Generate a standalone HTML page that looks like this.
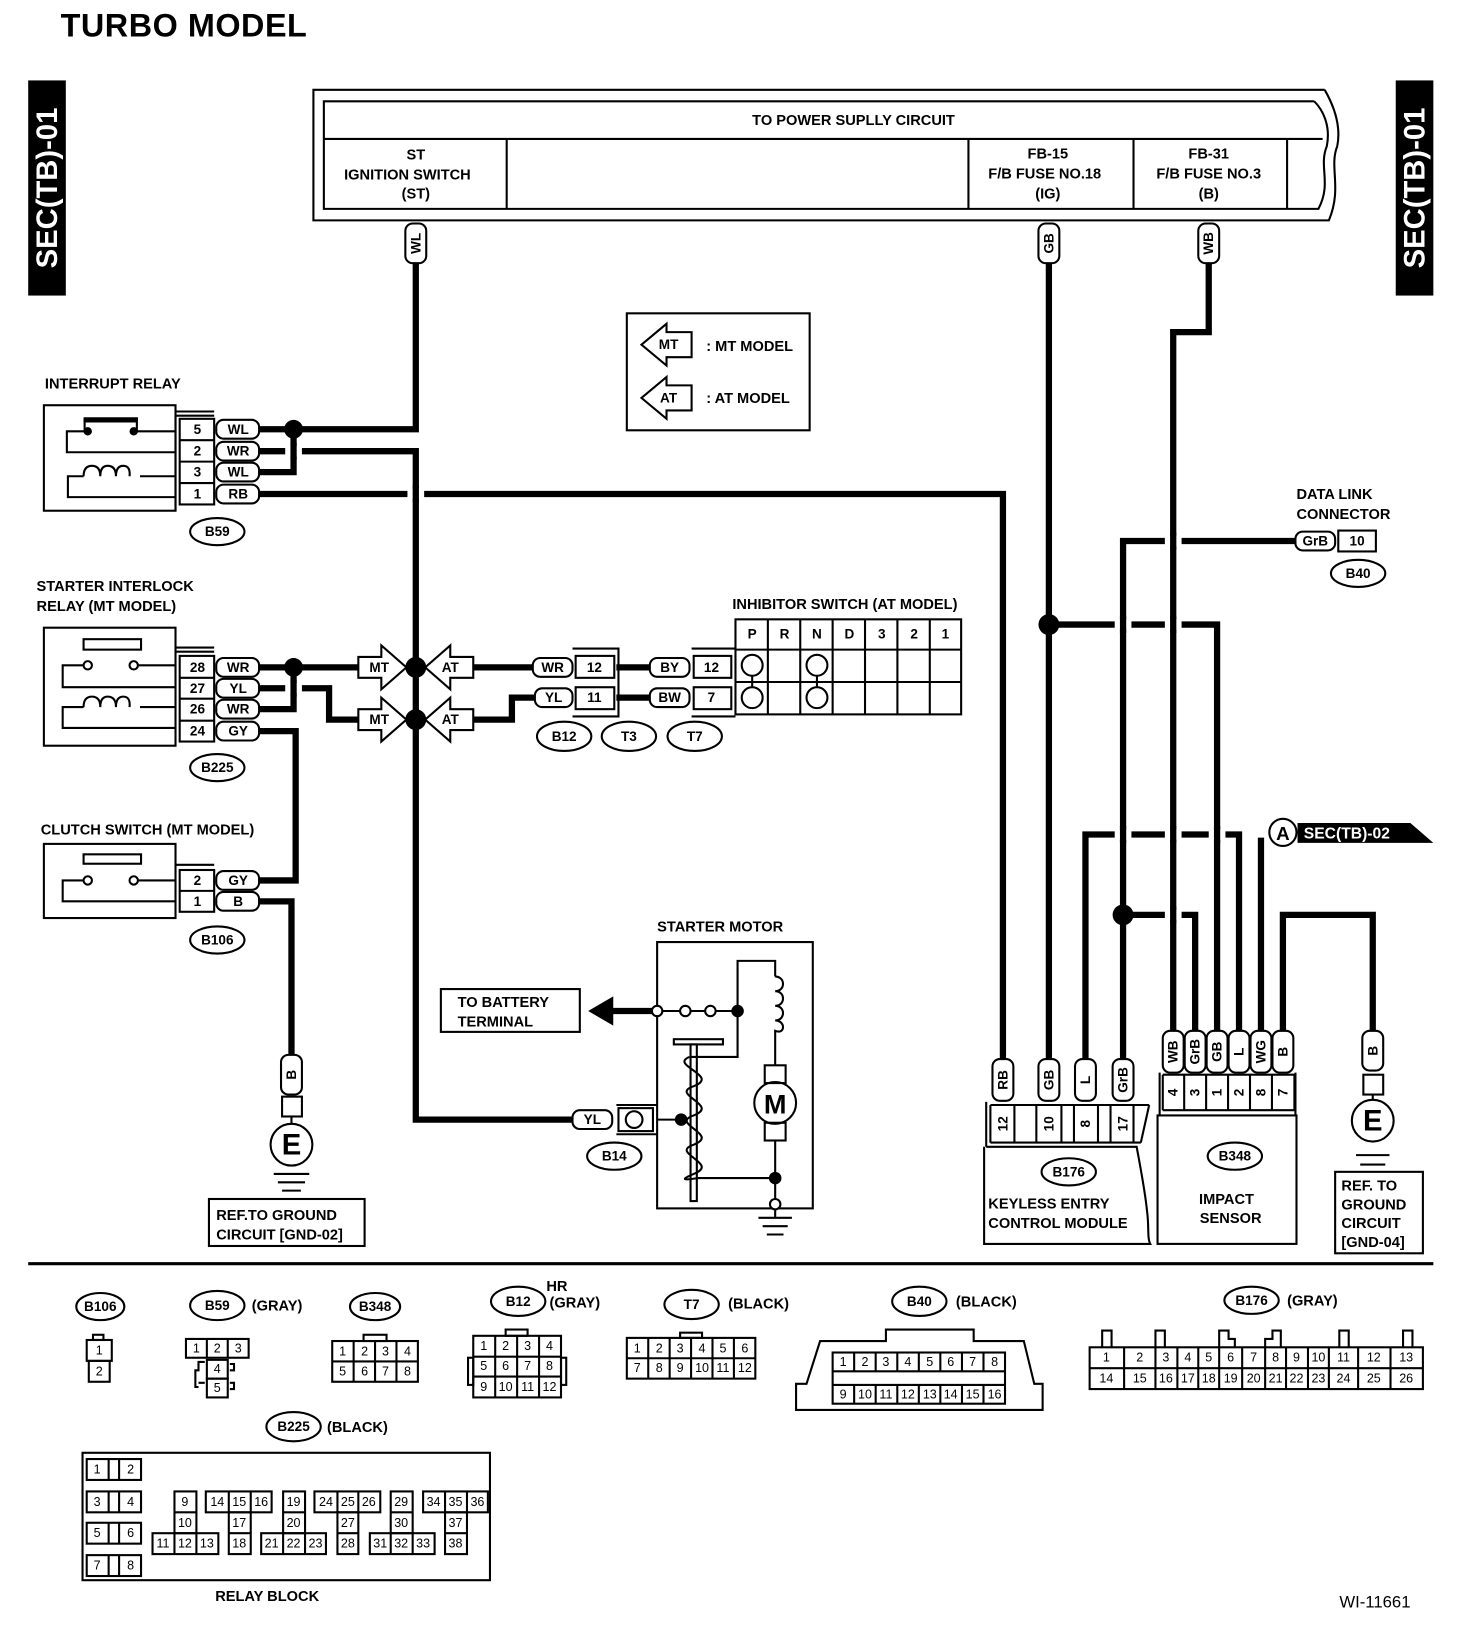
<!DOCTYPE html>
<html><head><meta charset="utf-8"><style>
html,body{margin:0;padding:0;background:#fff}
svg{display:block}
text{font-family:"Liberation Sans",Arial,sans-serif;font-weight:bold;font-size:14px;fill:#000}
.c{text-anchor:middle;dominant-baseline:central}
.w{stroke:#000;stroke-width:6;fill:none}
.t{stroke:#000;stroke-width:2;fill:none}
.p{fill:#fff;stroke:#000;stroke-width:2}
.n{font-size:13px}
.s{font-size:12px;font-weight:normal}
</style></head><body>
<svg width="1472" height="1646" viewBox="0 0 1409 1576" preserveAspectRatio="none" xmlns="http://www.w3.org/2000/svg">
<rect width="1409" height="1576" fill="#fff"/>
<text x="58" y="35" style="font-size:31px;letter-spacing:0.5px">TURBO MODEL</text>
<rect x="27" y="77" width="36" height="206" fill="#000"/>
<text class="c" transform="translate(46,180) rotate(-90)" style="font-size:28px;fill:#fff">SEC(TB)-01</text>
<rect x="1336" y="77" width="36" height="206" fill="#000"/>
<text class="c" transform="translate(1355,180) rotate(-90)" style="font-size:28px;fill:#fff">SEC(TB)-01</text>

<path class="t" d="M1268,86 H300 V211 H1272 C1285,180 1272,160 1280,140 C1284,120 1276,100 1268,86" stroke-width="2.5"/>
<path class="t" d="M1258,97 H310 V200 H1262 C1275,175 1262,160 1270,140 C1274,120 1266,105 1258,97"/>
<line class="t" x1="310" y1="133" x2="1266" y2="133"/>
<line class="t" x1="485" y1="133" x2="485" y2="200"/>
<line class="t" x1="927" y1="133" x2="927" y2="200"/>
<line class="t" x1="1085" y1="133" x2="1085" y2="200"/>
<line class="t" x1="1232" y1="133" x2="1232" y2="200"/>
<text class="c" x="817" y="116">TO POWER SUPLLY CIRCUIT</text>
<text class="c" x="398" y="149">ST</text>
<text class="c" x="390" y="168">IGNITION SWITCH</text>
<text class="c" x="398" y="186">(ST)</text>
<text class="c" x="1003" y="148">FB-15</text>
<text class="c" x="1000" y="167">F/B FUSE NO.18</text>
<text class="c" x="1003" y="186">(IG)</text>
<text class="c" x="1157" y="148">FB-31</text>
<text class="c" x="1157" y="167">F/B FUSE NO.3</text>
<text class="c" x="1157" y="186">(B)</text>

<rect class="t" x="600" y="300" width="175" height="112"/>
<path class="t" d="M614,330 L638,310 V318 H662 V342 H638 V350 Z"/>
<text class="c" x="640" y="330" style="font-size:13px">MT</text>
<text x="676" y="336">: MT MODEL</text>
<path class="t" d="M614,381 L638,361 V369 H662 V393 H638 V401 Z"/>
<text class="c" x="640" y="381" style="font-size:13px">AT</text>
<text x="676" y="386">: AT MODEL</text>

<path class="w" d="M398,252 V411 H248"/>
<path class="w" d="M281,411 V452 H248"/>
<path class="w" d="M248,432 H398 V1072 H548"/>
<path class="w" d="M248,473 H960 V1014"/>
<path class="w" d="M248,639 H343"/>
<path class="w" d="M281,639 V679 H248"/>
<path class="w" d="M248,659 H315 V689 H343"/>
<path class="w" d="M453,639 H510"/>
<path class="w" d="M453,689 H490 V668 H512"/>
<path class="w" d="M590,639 H622"/>
<path class="w" d="M590,668 H622"/>
<path class="w" d="M248,700 H283 V843 H248"/>
<path class="w" d="M248,863 H279 V1010"/>
<path class="w" d="M1004,252 V1014"/>
<path class="w" d="M1004,598 H1165 V987"/>
<path class="w" d="M1157,252 V318 H1123 V987"/>
<path class="w" d="M1240,518 H1075 V1014"/>
<path class="w" d="M1039,1014 V799 H1186 V987"/>
<path class="w" d="M1075,876 H1144 V987"/>
<path class="w" d="M1207,802 V987"/>
<path class="w" d="M1228,987 V876 H1314 V987"/>
<g fill="#fff">
<rect x="273" y="427" width="16" height="10"/>
<rect x="273" y="654" width="16" height="10"/>
<rect x="390" y="468" width="16" height="10"/>
<rect x="1067" y="593" width="16" height="10"/>
<rect x="1115" y="593" width="16" height="10"/>
<rect x="1115" y="513" width="16" height="10"/>
<rect x="1067" y="794" width="16" height="10"/>
<rect x="1115" y="794" width="16" height="10"/>
<rect x="1157" y="794" width="16" height="10"/>
<rect x="1115" y="871" width="16" height="10"/>
</g>
<g class="w">
<line x1="281" y1="424" x2="281" y2="440"/>
<line x1="281" y1="651" x2="281" y2="667"/>
<line x1="398" y1="465" x2="398" y2="481"/>
<line x1="1075" y1="590" x2="1075" y2="606"/>
<line x1="1123" y1="590" x2="1123" y2="606"/>
<line x1="1123" y1="510" x2="1123" y2="526"/>
<line x1="1075" y1="791" x2="1075" y2="807"/>
<line x1="1123" y1="791" x2="1123" y2="807"/>
<line x1="1165" y1="791" x2="1165" y2="807"/>
<line x1="1123" y1="868" x2="1123" y2="884"/>
</g>
<g fill="#000">
<circle cx="281" cy="411" r="9"/>
<circle cx="281" cy="639" r="9"/>
<circle cx="398" cy="639" r="10"/>
<circle cx="398" cy="689" r="10"/>
<circle cx="1004" cy="598" r="10"/>
<circle cx="1075" cy="876" r="10"/>
</g>
<g class="p">
<path d="M343,629 H365 V618 L389,639 L365,660 V649 H343 Z"/>
<path d="M453,629 H431 V618 L407,639 L431,660 V649 H453 Z"/>
<path d="M343,679 H365 V668 L389,689 L365,710 V699 H343 Z"/>
<path d="M453,679 H431 V668 L407,689 L431,710 V699 H453 Z"/>
</g>
<text class="c" x="363" y="639" style="font-size:13px">MT</text>
<text class="c" x="431" y="639" style="font-size:13px">AT</text>
<text class="c" x="363" y="689" style="font-size:13px">MT</text>
<text class="c" x="431" y="689" style="font-size:13px">AT</text>

<rect class="p" x="388" y="214" width="20" height="38" rx="7"/>
<text class="c n" transform="translate(398,233) rotate(-90)">WL</text>
<rect class="p" x="994" y="214" width="20" height="38" rx="7"/>
<text class="c n" transform="translate(1004,233) rotate(-90)">GB</text>
<rect class="p" x="1147" y="214" width="20" height="38" rx="7"/>
<text class="c n" transform="translate(1157,233) rotate(-90)">WB</text>

<text x="43" y="372">INTERRUPT RELAY</text>
<rect class="t" x="42" y="388" width="126" height="101"/>
<path class="t" d="M168,413 H128 M84,413 H64 V433 H168"/>
<path d="M80,402 H132" stroke="#000" stroke-width="5"/>
<line class="t" x1="81" y1="400" x2="81" y2="413"/><line class="t" x1="131" y1="400" x2="131" y2="413"/>
<circle cx="84" cy="413" r="4"/><circle cx="128" cy="413" r="4"/>
<path class="t" d="M168,456 H134 M80,456 H65 V476 H168"/>
<path class="t" d="M80,456 q0,-10 8,-10 q8,0 8,10 q0,-10 7,-10 q8,0 8,10 q0,-10 7,-10 q7,0 6,10"/>
<path class="t" d="M168,394 H205 M168,398 H205"/>
<rect class="t" x="172" y="401" width="33" height="82"/>
<line class="t" x1="172" y1="421.5" x2="205" y2="421.5"/><line class="t" x1="172" y1="442" x2="205" y2="442"/><line class="t" x1="172" y1="462.5" x2="205" y2="462.5"/>
<line class="t" x1="168" y1="398" x2="168" y2="489"/>
<text class="c n" x="189" y="411">5</text><text class="c n" x="189" y="432">2</text><text class="c n" x="189" y="452">3</text><text class="c n" x="189" y="473">1</text>
<g class="p"><rect x="207" y="402" width="41" height="18" rx="7"/><rect x="207" y="423" width="41" height="18" rx="7"/><rect x="207" y="443" width="41" height="18" rx="7"/><rect x="207" y="464" width="41" height="18" rx="7"/></g>
<text class="c n" x="228" y="411">WL</text><text class="c n" x="228" y="432">WR</text><text class="c n" x="228" y="452">WL</text><text class="c n" x="228" y="473">RB</text>
<ellipse class="t" cx="208" cy="509" rx="26" ry="13"/><text class="c n" x="208" y="509">B59</text>

<text x="35" y="566">STARTER INTERLOCK</text>
<text x="35" y="585">RELAY (MT MODEL)</text>
<rect class="t" x="42" y="601" width="126" height="113"/>
<rect class="t" x="80" y="612" width="55" height="10"/>
<path class="t" d="M168,637 H132 M80,637 H60 V658 H168"/>
<circle class="p" cx="84" cy="637" r="4"/><circle class="p" cx="128" cy="637" r="4"/>
<path class="t" d="M168,677 H134 M80,677 H60 V697 H168"/>
<path class="t" d="M80,677 q0,-10 8,-10 q8,0 8,10 q0,-10 7,-10 q8,0 8,10 q0,-10 7,-10 q7,0 6,10"/>
<path class="t" d="M168,620 H205 M168,624 H205"/>
<rect class="t" x="172" y="628" width="33" height="82"/>
<line class="t" x1="172" y1="649" x2="205" y2="649"/><line class="t" x1="172" y1="669" x2="205" y2="669"/><line class="t" x1="172" y1="690" x2="205" y2="690"/>
<text class="c n" x="189" y="639">28</text><text class="c n" x="189" y="659">27</text><text class="c n" x="189" y="679">26</text><text class="c n" x="189" y="700">24</text>
<g class="p"><rect x="207" y="630" width="41" height="18" rx="7"/><rect x="207" y="650" width="41" height="18" rx="7"/><rect x="207" y="670" width="41" height="18" rx="7"/><rect x="207" y="691" width="41" height="18" rx="7"/></g>
<text class="c n" x="228" y="639">WR</text><text class="c n" x="228" y="659">YL</text><text class="c n" x="228" y="679">WR</text><text class="c n" x="228" y="700">GY</text>
<ellipse class="t" cx="208" cy="735" rx="26" ry="13"/><text class="c n" x="208" y="735">B225</text>

<text x="39" y="799">CLUTCH SWITCH (MT MODEL)</text>
<rect class="t" x="42" y="808" width="126" height="71"/>
<rect class="t" x="80" y="818" width="55" height="9"/>
<path class="t" d="M168,843 H132 M80,843 H60 V863 H168"/>
<circle class="p" cx="84" cy="843" r="4"/><circle class="p" cx="128" cy="843" r="4"/>
<path class="t" d="M168,828 H205"/>
<rect class="t" x="172" y="833" width="33" height="40"/>
<line class="t" x1="172" y1="853" x2="205" y2="853"/>
<text class="c n" x="189" y="843">2</text><text class="c n" x="189" y="863">1</text>
<g class="p"><rect x="207" y="834" width="41" height="18" rx="7"/><rect x="207" y="854" width="41" height="18" rx="7"/></g>
<text class="c n" x="228" y="843">GY</text><text class="c n" x="228" y="863">B</text>
<ellipse class="t" cx="208" cy="900" rx="26" ry="13"/><text class="c n" x="208" y="900">B106</text>

<rect class="p" x="269" y="1010" width="20" height="38" rx="7"/>
<text class="c n" transform="translate(279,1029) rotate(-90)">B</text>
<rect class="t" x="270" y="1050" width="19" height="19"/>
<line class="t" x1="279" y1="1069" x2="279" y2="1076"/>
<circle class="t" cx="279" cy="1096" r="20" stroke-width="2.5"/>
<text class="c" x="279" y="1097" style="font-size:28px">E</text>
<path class="t" d="M262,1124 H296 M266,1132 H292 M270,1140 H288" stroke-width="2.5"/>
<rect class="t" x="200" y="1148" width="149" height="45"/>
<text x="207" y="1168">REF.TO GROUND</text>
<text x="207" y="1187">CIRCUIT [GND-02]</text>

<text x="701" y="583">INHIBITOR SWITCH (AT MODEL)</text>
<g class="p"><rect x="510" y="630" width="38" height="18" rx="7"/><rect x="512" y="659" width="36" height="18" rx="7"/><rect x="622" y="630" width="38" height="18" rx="7"/><rect x="622" y="659" width="38" height="18" rx="7"/></g>
<text class="c n" x="529" y="639">WR</text><text class="c n" x="530" y="668">YL</text><text class="c n" x="641" y="639">BY</text><text class="c n" x="641" y="668">BW</text>
<path class="t" d="M548,621 H592 V686 H548"/>
<rect class="t" x="551" y="628" width="37" height="21"/><rect class="t" x="551" y="658" width="37" height="21"/>
<text class="c n" x="569" y="639">12</text><text class="c n" x="569" y="668">11</text>
<path class="t" d="M662,621 H704 M662,686 H704"/>
<rect class="t" x="664" y="628" width="36" height="21"/><rect class="t" x="664" y="658" width="36" height="21"/>
<text class="c n" x="681" y="639">12</text><text class="c n" x="681" y="668">7</text>
<rect class="t" x="704" y="593" width="216" height="91" stroke-width="2.5"/>
<path class="t" d="M704,622 H920 M704,653 H920 M735,593 V684 M766,593 V684 M797,593 V684 M828,593 V684 M859,593 V684 M890,593 V684" stroke-width="2.5"/>
<text class="c n" x="720" y="607">P</text><text class="c n" x="751" y="607">R</text><text class="c n" x="782" y="607">N</text><text class="c n" x="813" y="607">D</text><text class="c n" x="844" y="607">3</text><text class="c n" x="875" y="607">2</text><text class="c n" x="905" y="607">1</text>
<g class="t"><circle cx="720" cy="637" r="10"/><circle cx="720" cy="668" r="10"/><line x1="720" y1="647" x2="720" y2="658"/><circle cx="782" cy="637" r="10"/><circle cx="782" cy="668" r="10"/><line x1="782" y1="647" x2="782" y2="658"/></g>
<ellipse class="t" cx="540" cy="705" rx="26" ry="14"/><text class="c n" x="540" y="705">B12</text>
<ellipse class="t" cx="602" cy="705" rx="26" ry="14"/><text class="c n" x="602" y="705">T3</text>
<ellipse class="t" cx="665" cy="705" rx="26" ry="14"/><text class="c n" x="665" y="705">T7</text>

<text x="629" y="892">STARTER MOTOR</text>
<rect class="t" x="629" y="902" width="149" height="255"/>
<rect class="t" x="422" y="947" width="133" height="41"/>
<text x="438" y="964">TO BATTERY</text>
<text x="438" y="983">TERMINAL</text>
<path class="w" d="M585,968 H626"/>
<path d="M563,968 L587,954 V982 Z"/>
<path class="t" d="M629,968 H706 M706,968 V920 H742 V935 M706,968 V1012 H660"/>
<circle class="p" cx="629" cy="968" r="5"/><circle class="p" cx="656" cy="968" r="5"/><circle class="p" cx="680" cy="968" r="5"/>
<circle cx="706" cy="968" r="6"/>
<path class="t" d="M742,935 c10,0 10,14 0,14 c10,0 10,14 0,14 c10,0 10,14 0,14 c10,0 10,14 0,10 V1020"/>
<rect class="t" x="732" y="1020" width="20" height="17"/>
<circle class="t" cx="742" cy="1056" r="20"/>
<text class="c" x="742" y="1057" style="font-size:26px">M</text>
<rect class="t" x="732" y="1075" width="20" height="17"/>
<path class="t" d="M742,1092 V1153 M668,1128 H742"/>
<circle cx="742" cy="1128" r="6"/>
<circle class="p" cx="742" cy="1153" r="5"/>
<path class="t" d="M742,1158 V1166 M726,1166 H758 M730,1174 H754 M734,1182 H750" stroke-width="2.5"/>
<rect class="t" x="645" y="995" width="47" height="5"/>
<rect class="t" x="661" y="1000" width="6" height="150"/>
<path class="t" d="M660,1012 C640,1020 690,1030 664,1040 C640,1048 690,1058 664,1068 C640,1076 690,1086 664,1096 C640,1104 690,1114 664,1124 C650,1130 655,1130 668,1128"/>
<circle cx="652" cy="1072" r="6"/>
<path class="t" d="M629,1072 H652"/>
<path class="t" d="M590,1058 H629 M590,1086 H629"/>
<rect class="t" x="592" y="1061" width="33" height="22"/>
<circle class="t" cx="607" cy="1072" r="8"/>
<rect class="p" x="548" y="1063" width="38" height="18" rx="7"/>
<text class="c n" x="567" y="1072">YL</text>
<ellipse class="t" cx="588" cy="1107" rx="26" ry="13"/><text class="c n" x="588" y="1107">B14</text>

<text x="1241" y="478">DATA LINK</text>
<text x="1241" y="497">CONNECTOR</text>
<rect class="p" x="1240" y="509" width="38" height="18" rx="7"/><text class="c n" x="1259" y="518">GrB</text>
<rect class="t" x="1281" y="508" width="36" height="20"/><text class="c n" x="1299" y="518">10</text>
<ellipse class="t" cx="1300" cy="549" rx="26" ry="13"/><text class="c n" x="1300" y="549">B40</text>

<path d="M1242,788 H1350 L1372,807 H1242 Z"/>
<text x="1248" y="803" style="fill:#fff;font-size:15px">SEC(TB)-02</text>
<circle class="p" cx="1228" cy="797" r="13"/>
<text class="c" x="1228" y="798" style="font-size:18px">A</text>

<g class="p">
<rect x="950" y="1014" width="20" height="40" rx="7"/><rect x="994" y="1014" width="20" height="40" rx="7"/><rect x="1029" y="1014" width="20" height="40" rx="7"/><rect x="1065" y="1014" width="20" height="40" rx="7"/>
</g>
<text class="c n" transform="translate(960,1034) rotate(-90)">RB</text>
<text class="c n" transform="translate(1004,1034) rotate(-90)">GB</text>
<text class="c n" transform="translate(1039,1034) rotate(-90)">L</text>
<text class="c n" transform="translate(1075,1034) rotate(-90)">GrB</text>
<path class="t" d="M944,1055 V1098 M948,1058 H1100 M948,1094 H1092 M948,1058 V1094 M971,1058 V1094 M992,1058 V1094 M1016,1058 V1094 M1028,1058 V1094 M1051,1058 V1094 M1063,1058 V1094 M1085,1058 V1094 M1100,1058 L1092,1094"/>
<text class="c n" transform="translate(960,1076) rotate(-90)">12</text>
<text class="c n" transform="translate(1004,1076) rotate(-90)">10</text>
<text class="c n" transform="translate(1039,1076) rotate(-90)">8</text>
<text class="c n" transform="translate(1075,1076) rotate(-90)">17</text>
<path class="t" d="M944,1098 H1088 C1092,1120 1096,1140 1098,1160 C1100,1175 1098,1185 1101,1191 H942 V1098"/>
<ellipse class="t" cx="1023" cy="1122" rx="26" ry="13"/><text class="c n" x="1023" y="1122">B176</text>
<text x="946" y="1157">KEYLESS ENTRY</text>
<text x="946" y="1176">CONTROL MODULE</text>

<g class="p">
<rect x="1113" y="987" width="20" height="40" rx="7"/><rect x="1134" y="987" width="20" height="40" rx="7"/><rect x="1155" y="987" width="20" height="40" rx="7"/><rect x="1176" y="987" width="20" height="40" rx="7"/><rect x="1197" y="987" width="20" height="40" rx="7"/><rect x="1218" y="987" width="20" height="40" rx="7"/>
</g>
<text class="c n" transform="translate(1123,1007) rotate(-90)">WB</text>
<text class="c n" transform="translate(1144,1007) rotate(-90)">GrB</text>
<text class="c n" transform="translate(1165,1007) rotate(-90)">GB</text>
<text class="c n" transform="translate(1186,1007) rotate(-90)">L</text>
<text class="c n" transform="translate(1207,1007) rotate(-90)">WG</text>
<text class="c n" transform="translate(1228,1007) rotate(-90)">B</text>
<path class="t" d="M1110,1027 V1068 M1240,1027 V1068 M1113,1029 H1239 M1113,1063 H1239 M1113,1029 V1063 M1133.5,1029 V1063 M1154.5,1029 V1063 M1175.5,1029 V1063 M1196.5,1029 V1063 M1217.5,1029 V1063 M1239,1029 V1063"/>
<text class="c n" transform="translate(1123,1046) rotate(-90)">4</text>
<text class="c n" transform="translate(1144,1046) rotate(-90)">3</text>
<text class="c n" transform="translate(1165,1046) rotate(-90)">1</text>
<text class="c n" transform="translate(1186,1046) rotate(-90)">2</text>
<text class="c n" transform="translate(1207,1046) rotate(-90)">8</text>
<text class="c n" transform="translate(1228,1046) rotate(-90)">7</text>
<rect class="t" x="1108" y="1068" width="133" height="123"/>
<ellipse class="t" cx="1182" cy="1107" rx="26" ry="13"/><text class="c n" x="1182" y="1107">B348</text>
<text class="c" x="1174" y="1149">IMPACT</text>
<text class="c" x="1178" y="1167">SENSOR</text>

<rect class="p" x="1304" y="987" width="20" height="38" rx="7"/>
<text class="c n" transform="translate(1314,1006) rotate(-90)">B</text>
<rect class="t" x="1305" y="1029" width="19" height="19"/>
<line class="t" x1="1314" y1="1048" x2="1314" y2="1053"/>
<circle class="t" cx="1314" cy="1073" r="20" stroke-width="2.5"/>
<text class="c" x="1314" y="1074" style="font-size:28px">E</text>
<path class="t" d="M1298,1106 H1330 M1302,1115 H1326" stroke-width="2.5"/>
<rect class="t" x="1278" y="1122" width="84" height="78"/>
<text x="1284" y="1140">REF. TO</text>
<text x="1284" y="1158">GROUND</text>
<text x="1284" y="1176">CIRCUIT</text>
<text x="1284" y="1194">[GND-04]</text>

<line x1="27" y1="1210" x2="1372" y2="1210" stroke="#000" stroke-width="3"/>

<g class="t" stroke-width="1.5">
<rect x="89" y="1278" width="10" height="5"/>
<rect x="83" y="1283" width="24" height="20"/>
<rect x="85" y="1303" width="20" height="20"/>
<rect x="178" y="1282" width="60" height="18"/>
<line x1="198" y1="1282" x2="198" y2="1300"/><line x1="218" y1="1282" x2="218" y2="1300"/>
<rect x="198" y="1302" width="20" height="18"/><rect x="198" y="1320" width="20" height="18"/>
<path d="M196,1304 H190 V1312 H187 V1328 H190 M196,1324 H190 M220,1306 H224 V1312 H220 M220,1324 H224 V1330 H220"/>
<rect x="348" y="1278" width="22" height="6"/>
<rect x="318" y="1284" width="82" height="39"/>
<line x1="318" y1="1303.5" x2="400" y2="1303.5"/>
<line x1="338.5" y1="1284" x2="338.5" y2="1323"/><line x1="359" y1="1284" x2="359" y2="1323"/><line x1="379.5" y1="1284" x2="379.5" y2="1323"/>
<rect x="484" y="1273" width="21" height="6"/>
<rect x="453" y="1279" width="84" height="59"/>
<line x1="453" y1="1299" x2="537" y2="1299"/><line x1="453" y1="1318" x2="537" y2="1318"/>
<line x1="474" y1="1279" x2="474" y2="1338"/><line x1="495" y1="1279" x2="495" y2="1338"/><line x1="516" y1="1279" x2="516" y2="1338"/>
<rect x="448" y="1300" width="5" height="26"/><rect x="537" y="1300" width="5" height="26"/>
<rect x="651" y="1276" width="21" height="5"/>
<rect x="600" y="1281" width="123" height="39"/>
<line x1="600" y1="1300.5" x2="723" y2="1300.5"/>
<line x1="620.5" y1="1281" x2="620.5" y2="1320"/><line x1="641" y1="1281" x2="641" y2="1320"/><line x1="661.5" y1="1281" x2="661.5" y2="1320"/><line x1="682" y1="1281" x2="682" y2="1320"/><line x1="702.5" y1="1281" x2="702.5" y2="1320"/>
<path d="M762,1350 V1325 H772 L785,1284 H848 V1273 H932 V1284 H980 L990,1325 H998 V1350 Z"/>
<rect x="797" y="1295" width="165" height="49"/>
<line x1="797" y1="1313" x2="962" y2="1313"/><line x1="797" y1="1326" x2="962" y2="1326"/>
<path d="M817.6,1295 V1313 M838.2,1295 V1313 M858.9,1295 V1313 M879.5,1295 V1313 M900.1,1295 V1313 M920.8,1295 V1313 M941.4,1295 V1313 M817.6,1326 V1344 M838.2,1326 V1344 M858.9,1326 V1344 M879.5,1326 V1344 M900.1,1326 V1344 M920.8,1326 V1344 M941.4,1326 V1344"/>
<rect x="1043" y="1290" width="319" height="40"/>
<line x1="1043" y1="1310" x2="1362" y2="1310"/>
<path d="M1076,1290 V1330 M1106,1290 V1330 M1127,1290 V1330 M1147,1290 V1330 M1167,1290 V1330 M1189,1290 V1330 M1211,1290 V1330 M1231,1290 V1330 M1252,1290 V1330 M1272,1290 V1330 M1300,1290 V1330 M1331,1290 V1330"/>
<path d="M1055,1290 V1274 H1064 V1290 M1106,1290 V1274 H1115 V1290 M1167,1290 V1274 H1176 V1282 H1182 V1290 M1211,1290 V1282 H1218 V1274 H1226 V1290 M1282,1290 V1274 H1291 V1290 M1343,1290 V1274 H1352 V1290"/>
<rect x="79" y="1391" width="390" height="122"/>
<rect x="83" y="1397" width="52" height="20"/><line x1="104" y1="1397" x2="104" y2="1417"/><line x1="114" y1="1397" x2="114" y2="1417"/>
<rect x="83" y="1428" width="52" height="20"/><line x1="104" y1="1428" x2="104" y2="1448"/><line x1="114" y1="1428" x2="114" y2="1448"/>
<rect x="83" y="1458" width="52" height="20"/><line x1="104" y1="1458" x2="104" y2="1478"/><line x1="114" y1="1458" x2="114" y2="1478"/>
<rect x="83" y="1489" width="52" height="20"/><line x1="104" y1="1489" x2="104" y2="1509"/><line x1="114" y1="1489" x2="114" y2="1509"/>
<rect x="167" y="1428" width="21" height="40"/><line x1="167" y1="1448" x2="188" y2="1448"/><rect x="146" y="1468" width="63" height="20"/><line x1="167" y1="1468" x2="167" y2="1488"/><line x1="188" y1="1468" x2="188" y2="1488"/>
<rect x="197" y="1428" width="63" height="20"/><line x1="219" y1="1428" x2="219" y2="1448"/><line x1="240" y1="1428" x2="240" y2="1448"/><rect x="219" y="1448" width="21" height="40"/><line x1="219" y1="1468" x2="240" y2="1468"/>
<rect x="271" y="1428" width="21" height="40"/><line x1="271" y1="1448" x2="292" y2="1448"/><rect x="250" y="1468" width="62" height="20"/><line x1="271" y1="1468" x2="271" y2="1488"/><line x1="292" y1="1468" x2="292" y2="1488"/>
<rect x="301" y="1428" width="63" height="20"/><line x1="323" y1="1428" x2="323" y2="1448"/><line x1="343" y1="1428" x2="343" y2="1448"/><rect x="323" y="1448" width="20" height="40"/><line x1="323" y1="1468" x2="343" y2="1468"/>
<rect x="374" y="1428" width="21" height="40"/><line x1="374" y1="1448" x2="395" y2="1448"/><rect x="354" y="1468" width="62" height="20"/><line x1="374" y1="1468" x2="374" y2="1488"/><line x1="395" y1="1468" x2="395" y2="1488"/>
<rect x="405" y="1428" width="62" height="20"/><line x1="426" y1="1428" x2="426" y2="1448"/><line x1="447" y1="1428" x2="447" y2="1448"/><rect x="426" y="1448" width="21" height="40"/><line x1="426" y1="1468" x2="447" y2="1468"/>
</g>
<g>
<ellipse class="t" cx="96" cy="1251" rx="23" ry="13"/><text class="c n" x="96" y="1251">B106</text>
<ellipse class="t" cx="208" cy="1250" rx="26" ry="14"/><text class="c n" x="208" y="1250">B59</text><text x="241" y="1255">(GRAY)</text>
<ellipse class="t" cx="359" cy="1251" rx="24" ry="13"/><text class="c n" x="359" y="1251">B348</text>
<ellipse class="t" cx="496" cy="1246" rx="26" ry="14"/><text class="c n" x="496" y="1246">B12</text><text x="523" y="1236">HR</text><text x="526" y="1252">(GRAY)</text>
<ellipse class="t" cx="662" cy="1249" rx="26" ry="14"/><text class="c n" x="662" y="1249">T7</text><text x="697" y="1253">(BLACK)</text>
<ellipse class="t" cx="880" cy="1246" rx="26" ry="14"/><text class="c n" x="880" y="1246">B40</text><text x="915" y="1251">(BLACK)</text>
<ellipse class="t" cx="1198" cy="1245" rx="26" ry="13"/><text class="c n" x="1198" y="1245">B176</text><text x="1232" y="1250">(GRAY)</text>
<ellipse class="t" cx="281" cy="1366" rx="26" ry="14"/><text class="c n" x="281" y="1366">B225</text><text x="313" y="1371">(BLACK)</text>
</g>
<g class="s">
<text class="c s" x="95" y="1293">1</text><text class="c s" x="95" y="1313">2</text>
<text class="c s" x="188" y="1291">1</text><text class="c s" x="208" y="1291">2</text><text class="c s" x="228" y="1291">3</text><text class="c s" x="208" y="1311">4</text><text class="c s" x="208" y="1329">5</text>
<text class="c s" x="328" y="1294">1</text><text class="c s" x="349" y="1294">2</text><text class="c s" x="369" y="1294">3</text><text class="c s" x="390" y="1294">4</text>
<text class="c s" x="328" y="1313">5</text><text class="c s" x="349" y="1313">6</text><text class="c s" x="369" y="1313">7</text><text class="c s" x="390" y="1313">8</text>
<text class="c s" x="463" y="1289">1</text><text class="c s" x="484" y="1289">2</text><text class="c s" x="505" y="1289">3</text><text class="c s" x="526" y="1289">4</text>
<text class="c s" x="463" y="1308">5</text><text class="c s" x="484" y="1308">6</text><text class="c s" x="505" y="1308">7</text><text class="c s" x="526" y="1308">8</text>
<text class="c s" x="463" y="1328">9</text><text class="c s" x="484" y="1328">10</text><text class="c s" x="505" y="1328">11</text><text class="c s" x="526" y="1328">12</text>
<text class="c s" x="610" y="1291">1</text><text class="c s" x="631" y="1291">2</text><text class="c s" x="651" y="1291">3</text><text class="c s" x="672" y="1291">4</text><text class="c s" x="692" y="1291">5</text><text class="c s" x="713" y="1291">6</text>
<text class="c s" x="610" y="1310">7</text><text class="c s" x="631" y="1310">8</text><text class="c s" x="651" y="1310">9</text><text class="c s" x="672" y="1310">10</text><text class="c s" x="692" y="1310">11</text><text class="c s" x="713" y="1310">12</text>
<text class="c s" x="807" y="1304">1</text><text class="c s" x="828" y="1304">2</text><text class="c s" x="848" y="1304">3</text><text class="c s" x="869" y="1304">4</text><text class="c s" x="890" y="1304">5</text><text class="c s" x="910" y="1304">6</text><text class="c s" x="931" y="1304">7</text><text class="c s" x="952" y="1304">8</text>
<text class="c s" x="807" y="1335">9</text><text class="c s" x="828" y="1335">10</text><text class="c s" x="848" y="1335">11</text><text class="c s" x="869" y="1335">12</text><text class="c s" x="890" y="1335">13</text><text class="c s" x="910" y="1335">14</text><text class="c s" x="931" y="1335">15</text><text class="c s" x="952" y="1335">16</text>
<text class="c s" x="1059" y="1300">1</text><text class="c s" x="1091" y="1300">2</text><text class="c s" x="1116" y="1300">3</text><text class="c s" x="1137" y="1300">4</text><text class="c s" x="1157" y="1300">5</text><text class="c s" x="1178" y="1300">6</text><text class="c s" x="1200" y="1300">7</text><text class="c s" x="1221" y="1300">8</text><text class="c s" x="1241" y="1300">9</text><text class="c s" x="1262" y="1300">10</text><text class="c s" x="1286" y="1300">11</text><text class="c s" x="1315" y="1300">12</text><text class="c s" x="1346" y="1300">13</text>
<text class="c s" x="1059" y="1320">14</text><text class="c s" x="1091" y="1320">15</text><text class="c s" x="1116" y="1320">16</text><text class="c s" x="1137" y="1320">17</text><text class="c s" x="1157" y="1320">18</text><text class="c s" x="1178" y="1320">19</text><text class="c s" x="1200" y="1320">20</text><text class="c s" x="1221" y="1320">21</text><text class="c s" x="1241" y="1320">22</text><text class="c s" x="1262" y="1320">23</text><text class="c s" x="1286" y="1320">24</text><text class="c s" x="1315" y="1320">25</text><text class="c s" x="1346" y="1320">26</text>
<text class="c s" x="93" y="1407">1</text><text class="c s" x="125" y="1407">2</text><text class="c s" x="93" y="1438">3</text><text class="c s" x="125" y="1438">4</text>
<text class="c s" x="93" y="1468">5</text><text class="c s" x="125" y="1468">6</text><text class="c s" x="93" y="1499">7</text><text class="c s" x="125" y="1499">8</text>
<text class="c s" x="177" y="1438">9</text><text class="c s" x="177" y="1458">10</text><text class="c s" x="156" y="1478">11</text><text class="c s" x="177" y="1478">12</text><text class="c s" x="198" y="1478">13</text>
<text class="c s" x="208" y="1438">14</text><text class="c s" x="229" y="1438">15</text><text class="c s" x="250" y="1438">16</text><text class="c s" x="229" y="1458">17</text><text class="c s" x="229" y="1478">18</text>
<text class="c s" x="281" y="1438">19</text><text class="c s" x="281" y="1458">20</text><text class="c s" x="260" y="1478">21</text><text class="c s" x="281" y="1478">22</text><text class="c s" x="302" y="1478">23</text>
<text class="c s" x="312" y="1438">24</text><text class="c s" x="333" y="1438">25</text><text class="c s" x="353" y="1438">26</text><text class="c s" x="333" y="1458">27</text><text class="c s" x="333" y="1478">28</text>
<text class="c s" x="384" y="1438">29</text><text class="c s" x="384" y="1458">30</text><text class="c s" x="364" y="1478">31</text><text class="c s" x="384" y="1478">32</text><text class="c s" x="405" y="1478">33</text>
<text class="c s" x="415" y="1438">34</text><text class="c s" x="436" y="1438">35</text><text class="c s" x="457" y="1438">36</text><text class="c s" x="436" y="1458">37</text><text class="c s" x="436" y="1478">38</text>
</g>
<text x="206" y="1533">RELAY BLOCK</text>
<text x="1282" y="1539" style="font-weight:normal;font-size:16px">WI-11661</text>
</svg>
</body></html>
